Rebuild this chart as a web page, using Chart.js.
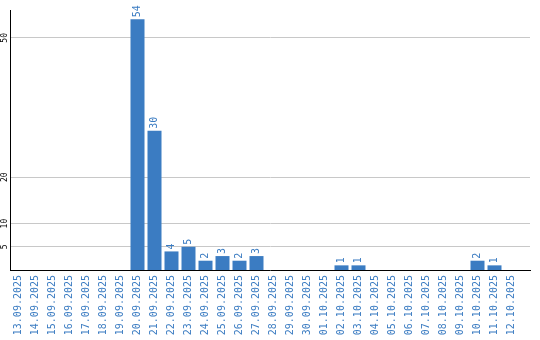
<!DOCTYPE html>
<html>
<head>
<meta charset="utf-8">
<script src="https://cdn.jsdelivr.net/npm/chart.js@4/dist/chart.umd.min.js"></script>
<style>
html,body{margin:0;padding:0;background:#fff;}
#wrap{width:540px;height:340px;position:relative;}
</style>
</head>
<body>
<div id="wrap"><canvas id="c" width="540" height="340"></canvas></div>
<script>
const dates = ["13.09.2025","14.09.2025","15.09.2025","16.09.2025","17.09.2025","18.09.2025","19.09.2025","20.09.2025","21.09.2025","22.09.2025","23.09.2025","24.09.2025","25.09.2025","26.09.2025","27.09.2025","28.09.2025","29.09.2025","30.09.2025","01.10.2025","02.10.2025","03.10.2025","04.10.2025","05.10.2025","06.10.2025","07.10.2025","08.10.2025","09.10.2025","10.10.2025","11.10.2025","12.10.2025"];
const counts = [0,0,0,0,0,0,0,54,30,4,5,2,3,2,3,0,0,0,0,1,1,0,0,0,0,0,0,2,1,0];
const yTicks = [5,10,20,50];
const yMax = 56;

const BLUE = '#3b7cc2';
const MONO = '"DejaVu Sans Mono", "Liberation Mono", monospace';

const labelPlugin = {
  id: 'labels',
  afterDatasetsDraw(chart) {
    const ctx = chart.ctx;
    const meta = chart.getDatasetMeta(0);
    ctx.save();
    ctx.fillStyle = BLUE;
    ctx.font = '10px ' + MONO;
    ctx.textAlign = 'left';
    ctx.textBaseline = 'middle';
    meta.data.forEach((bar, i) => {
      const v = counts[i];
      if (!v) return;
      ctx.save();
      ctx.translate(bar.x, bar.y - 2);
      ctx.rotate(-Math.PI / 2);
      ctx.fillText(String(v), 0, 0);
      ctx.restore();
    });
    const ys = chart.scales.y;
    ctx.fillStyle = '#000';
    ctx.font = '8px ' + MONO;
    ctx.textAlign = 'center';
    yTicks.forEach(t => {
      const py = ys.getPixelForValue(t);
      ctx.save();
      ctx.translate(5, py);
      ctx.rotate(-Math.PI / 2);
      ctx.fillText(String(t), 0, 0);
      ctx.restore();
    });
    ctx.restore();
  }
};

new Chart(document.getElementById('c'), {
  type: 'bar',
  data: {
    datasets: [{
      data: counts.map((v, i) => ({x: i, y: v})),
      backgroundColor: BLUE,
      borderWidth: 0,
      barPercentage: 14/17,
      categoryPercentage: 1
    }]
  },
  options: {
    responsive: false,
    animation: false,
    layout: {padding: {top: 10, right: 10, left: 0, bottom: 0}},
    plugins: {legend: {display: false}, tooltip: {enabled: false}},
    scales: {
      x: {
        type: 'linear',
        offset: false,
        min: -0.5,
        max: 520/17 - 0.5,
        afterBuildTicks(scale) { scale.ticks = dates.map((_, i) => ({value: i})); },
        afterFit(scale) { scale.height = 70; scale.paddingLeft = 0; scale.paddingRight = 0; },
        grid: {display: false},
        border: {display: true, color: '#000', width: 1},
        ticks: {
          autoSkip: false,
          minRotation: 90,
          maxRotation: 90,
          padding: -3,
          color: BLUE,
          font: {family: MONO, size: 10},
          callback: (v) => dates[v] ?? ''
        }
      },
      y: {
        min: 0,
        max: yMax,
        afterBuildTicks(scale) { scale.ticks = yTicks.map(v => ({value: v})); },
        afterFit(scale) { scale.width = 10; scale.paddingTop = 0; scale.paddingBottom = 0; },
        grid: {color: '#c8c8c8', drawTicks: false, lineWidth: 1},
        border: {display: true, color: '#000', width: 1},
        ticks: {display: false}
      }
    }
  },
  plugins: [labelPlugin]
});
</script>
</body>
</html>
